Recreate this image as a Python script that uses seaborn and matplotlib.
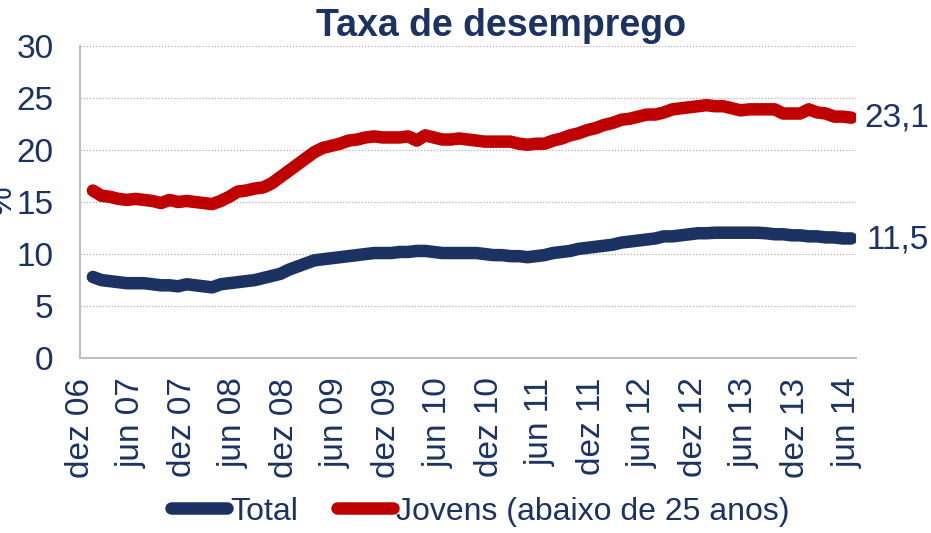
import matplotlib as mpl

mpl.use('Agg')
import pandas as pd
import matplotlib.pyplot as plt
import seaborn as sns
import numpy as np

sns.set_style("white")
plt.rcParams['font.family'] = ['Liberation Sans', 'DejaVu Sans']

NAVY = '#1B3263'
RED = '#C00000'
GREY = '#BFBFBF'

# monthly values, jan 07 .. jun 14
total = [7.8, 7.5, 7.4, 7.3, 7.2, 7.2, 7.2, 7.1, 7.0, 7.0, 6.9, 7.1,
         7.0, 6.9, 6.8, 7.1, 7.2, 7.3, 7.4, 7.5, 7.7, 7.9, 8.1, 8.5,
         8.8, 9.1, 9.4, 9.5, 9.6, 9.7, 9.8, 9.9, 10.0, 10.1, 10.1, 10.1,
         10.2, 10.2, 10.3, 10.3, 10.2, 10.1, 10.1, 10.1, 10.1, 10.1, 10.0, 9.9,
         9.9, 9.8, 9.8, 9.7, 9.8, 9.9, 10.1, 10.2, 10.3, 10.5, 10.6, 10.7,
         10.8, 10.9, 11.1, 11.2, 11.3, 11.4, 11.5, 11.7, 11.7, 11.8, 11.9, 12.0,
         12.0, 12.05, 12.05, 12.05, 12.05, 12.05, 12.05, 12.0, 11.9, 11.9, 11.8, 11.8,
         11.7, 11.7, 11.6, 11.6, 11.5, 11.5]
jovens = [16.1, 15.6, 15.5, 15.3, 15.2, 15.3, 15.2, 15.1, 14.9, 15.2, 15.0, 15.1,
          15.0, 14.9, 14.8, 15.1, 15.5, 16.0, 16.1, 16.3, 16.4, 16.8, 17.4, 18.0,
          18.6, 19.2, 19.8, 20.2, 20.4, 20.6, 20.9, 21.0, 21.2, 21.3, 21.2, 21.2,
          21.2, 21.3, 20.9, 21.4, 21.2, 21.0, 21.0, 21.1, 21.0, 20.9, 20.8, 20.8,
          20.8, 20.8, 20.6, 20.5, 20.6, 20.6, 20.9, 21.1, 21.4, 21.6, 21.9, 22.1,
          22.4, 22.6, 22.9, 23.0, 23.2, 23.4, 23.4, 23.6, 23.9, 24.0, 24.1, 24.2,
          24.3, 24.2, 24.2, 24.0, 23.8, 23.9, 23.9, 23.9, 23.9, 23.5, 23.5, 23.5,
          23.9, 23.6, 23.5, 23.2, 23.2, 23.1]
tick_labels = ['dez 06', 'jun 07', 'dez 07', 'jun 08', 'dez 08', 'jun 09', 'dez 09', 'jun 10',
               'dez 10', 'jun 11', 'dez 11', 'jun 12', 'dez 12', 'jun 13', 'dez 13', 'jun 14']
series_names = ['Total', 'Jovens (abaixo de 25 anos)']
end_labels = ['11,5', '23,1']

# points sit in the middle of each month slot; dez 06 boundary = 0
month_pos = np.arange(1, len(total) + 1) + 0.5
df = pd.DataFrame({'mes': np.concatenate([month_pos, month_pos]),
                   'taxa': total + jovens,
                   'serie': [series_names[0]] * len(total) + [series_names[1]] * len(jovens)})

fig = plt.figure(figsize=(9.31, 5.33), dpi=100)
ax = fig.add_axes([0.086, 0.328, 0.833, 0.586])

sns.lineplot(data=df, x='mes', y='taxa', hue='serie', palette=[NAVY, RED], lw=9,
             solid_capstyle='round', legend=False, ax=ax)

ax.set_xlim(0, 91)
ax.set_ylim(0, 30)
ax.set_yticks(range(0, 31, 5))
ax.set_xticks(range(0, 91, 6))
ax.set_xticklabels(tick_labels, rotation=90)
ax.tick_params(axis='both', colors=GREY, labelcolor=NAVY, labelsize=24, length=6, width=1.5,
               direction='out')
ax.tick_params(axis='y', pad=13)
ax.tick_params(axis='x', pad=8)
ax.set_xlabel('')
ax.set_ylabel('')
ax.yaxis.grid(True, linestyle=(0, (1, 1.5)), color='#B0B0B0', lw=0.9)
ax.set_axisbelow(True)
for side in ['top', 'right']:
    ax.spines[side].set_visible(False)
for side in ['left', 'bottom']:
    ax.spines[side].set_color(GREY)
    ax.spines[side].set_linewidth(1.5)

ax.text(92.3, 11.35, end_labels[0], color=NAVY, fontsize=24, va='center', ha='left',
        clip_on=False)
ax.text(92.0, 23.1, end_labels[1], color=NAVY, fontsize=24, va='center', ha='left',
        clip_on=False)

fig.text(0.538, 0.952, 'Taxa de desemprego', color=NAVY, fontsize=27, fontweight='bold',
         ha='center', va='center')
fig.text(-0.014, 0.625, '%', color=NAVY, fontsize=24, rotation=90, ha='left', va='center')

handles = [plt.Line2D([], [], color=NAVY, lw=9, solid_capstyle='round'),
           plt.Line2D([], [], color=RED, lw=9, solid_capstyle='round')]
fig.legend(handles, series_names, loc='center', bbox_to_anchor=(0.516, 0.04), ncol=2,
           frameon=False, fontsize=23, handlelength=1.75, handletextpad=0.1, columnspacing=1.2,
           labelcolor=NAVY, borderpad=0.1)

fig.savefig('out.png', dpi=100)
